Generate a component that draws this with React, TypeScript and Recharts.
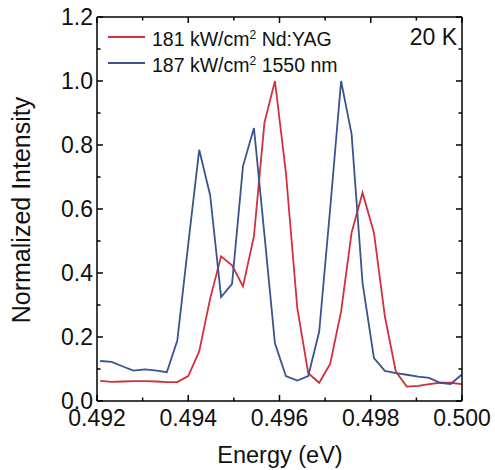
import React from 'react';
import { LineChart, Line, XAxis, YAxis, Customized } from 'recharts';

const energy = [
  0.49207, 0.49232, 0.49258, 0.4928, 0.49305, 0.49331, 0.49353, 0.49376, 0.494, 0.49424,
  0.49448, 0.49472, 0.49496, 0.4952, 0.49544, 0.49567, 0.4959, 0.49614, 0.49639, 0.49663,
  0.49687, 0.49711, 0.49735, 0.49758, 0.49782, 0.49807, 0.49831, 0.49855, 0.49879, 0.49904,
  0.49928, 0.49952, 0.49975, 0.49999,
];
const ndYag = [
  0.063, 0.06, 0.061, 0.062, 0.062, 0.061, 0.059, 0.059, 0.078, 0.155,
  0.32, 0.452, 0.424, 0.358, 0.515, 0.87, 1.0, 0.714, 0.29, 0.087,
  0.057, 0.116, 0.28, 0.526, 0.651, 0.526, 0.264, 0.092, 0.045, 0.047,
  0.053, 0.057, 0.057, 0.053,
];
const nm1550 = [
  0.125, 0.122, 0.107, 0.095, 0.099, 0.095, 0.09, 0.189, 0.49, 0.785,
  0.643, 0.325, 0.366, 0.734, 0.853, 0.52, 0.18, 0.078, 0.064, 0.078,
  0.217, 0.6, 1.0, 0.834, 0.369, 0.134, 0.094, 0.087, 0.082, 0.076,
  0.072, 0.057, 0.053, 0.082,
];
const xTicks = [0.492, 0.493, 0.494, 0.495, 0.496, 0.497, 0.498, 0.499, 0.5];
const yTicks = [0, 0.1, 0.2, 0.3, 0.4, 0.5, 0.6, 0.7, 0.8, 0.9, 1.0, 1.1, 1.2];

const data = energy.map((e, i) => ({ e, red: ndYag[i], blue: nm1550[i] }));

const FONT = '"Liberation Sans", Arial, sans-serif';
const RED = '#d2303c';
const BLUE = '#3a5491';
const MAJOR = 6;
const MINOR = 3.5;

const BottomTick = (p: any) => {
  const major = p.index % 2 === 0;
  return (
    <g>
      <line x1={p.x} x2={p.x} y1={p.y} y2={p.y - (major ? MAJOR : MINOR)} stroke="#000" strokeWidth={1.5} />
      {major && (
        <text x={p.x} y={p.y + 25} textAnchor="middle" fontSize={23} fontFamily={FONT} fill="#111">
          {p.payload.value.toFixed(3)}
        </text>
      )}
    </g>
  );
};

const TopTick = (p: any) => {
  const major = p.index % 2 === 0;
  return <line x1={p.x} x2={p.x} y1={p.y} y2={p.y + (major ? MAJOR : MINOR)} stroke="#000" strokeWidth={1.5} />;
};

const LeftTick = (p: any) => {
  const major = p.index % 2 === 0;
  return (
    <g>
      <line x1={p.x} x2={p.x + (major ? MAJOR : MINOR)} y1={p.y} y2={p.y} stroke="#000" strokeWidth={1.5} />
      {major && (
        <text x={p.x - 4} y={p.y + 8} textAnchor="end" fontSize={23} fontFamily={FONT} fill="#111">
          {p.payload.value.toFixed(1)}
        </text>
      )}
    </g>
  );
};

const RightTick = (p: any) => {
  const major = p.index % 2 === 0;
  return <line x1={p.x} x2={p.x - (major ? MAJOR : MINOR)} y1={p.y} y2={p.y} stroke="#000" strokeWidth={1.5} />;
};

const Labels = () => (
  <g fontFamily={FONT} fill="#111">
    <line x1={108} x2={145} y1={37} y2={37} stroke={RED} strokeWidth={2} />
    <text x={152} y={46} fontSize={19.5}>
      181 kW/cm<tspan fontSize={12} dy={-7}>2</tspan>
      <tspan dy={7}> Nd:YAG</tspan>
    </text>
    <line x1={108} x2={145} y1={63} y2={63} stroke={BLUE} strokeWidth={2} />
    <text x={152} y={72} fontSize={19.5}>
      187 kW/cm<tspan fontSize={12} dy={-7}>2</tspan>
      <tspan dy={7}> 1550 nm</tspan>
    </text>
    <text x={457} y={45} fontSize={23} textAnchor="end">20 K</text>
    <text x={280} y={463} fontSize={23.5} textAnchor="middle">Energy (eV)</text>
    <text x={30} y={210} fontSize={25} textAnchor="middle" transform="rotate(-90 30 210)">
      Normalized Intensity
    </text>
  </g>
);

export default function App() {
  return (
    <div style={{ position: 'absolute', left: 0, top: 0, background: '#fff' }}>
      <LineChart width={495} height={470} data={data} margin={{ top: 16, right: 32, bottom: 0, left: 0 }}>
        <XAxis
          dataKey="e"
          type="number"
          domain={[0.492, 0.5]}
          ticks={xTicks}
          interval={0}
          height={69}
          tickSize={0}
          tickMargin={0}
          tickLine={false}
          axisLine={{ stroke: '#000', strokeWidth: 1.5 }}
          tick={<BottomTick />}
        />
        <XAxis
          xAxisId="top"
          orientation="top"
          dataKey="e"
          type="number"
          domain={[0.492, 0.5]}
          ticks={xTicks}
          interval={0}
          height={1}
          tickSize={0}
          tickMargin={0}
          tickLine={false}
          axisLine={{ stroke: '#000', strokeWidth: 1.5 }}
          tick={<TopTick />}
        />
        <YAxis
          type="number"
          domain={[0, 1.2]}
          ticks={yTicks}
          interval={0}
          width={97}
          tickSize={0}
          tickMargin={0}
          tickLine={false}
          axisLine={{ stroke: '#000', strokeWidth: 1.5 }}
          tick={<LeftTick />}
        />
        <YAxis
          yAxisId="right"
          orientation="right"
          type="number"
          domain={[0, 1.2]}
          ticks={yTicks}
          interval={0}
          width={1}
          tickSize={0}
          tickMargin={0}
          tickLine={false}
          axisLine={{ stroke: '#000', strokeWidth: 1.5 }}
          tick={<RightTick />}
        />
        <Line
          xAxisId="top"
          yAxisId="right"
          dataKey="red"
          stroke="none"
          strokeWidth={0}
          dot={false}
          activeDot={false}
          isAnimationActive={false}
        />
        <Line dataKey="red" stroke={RED} strokeWidth={1.8} dot={false} isAnimationActive={false} />
        <Line dataKey="blue" stroke={BLUE} strokeWidth={1.8} dot={false} isAnimationActive={false} />
        <Customized component={Labels} />
      </LineChart>
    </div>
  );
}
